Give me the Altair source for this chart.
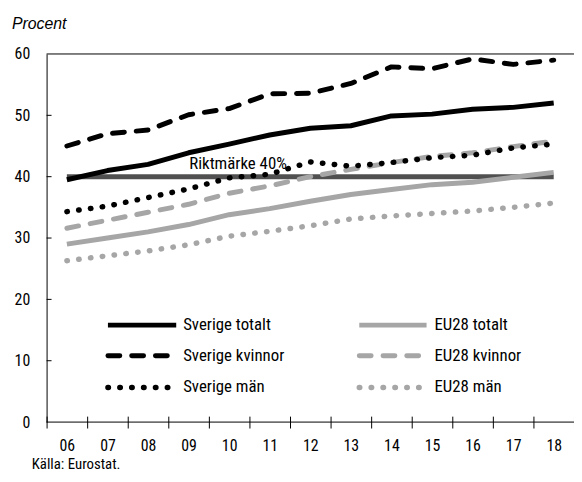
import altair as alt
import pandas as pd

# ---- data ----
years = ["06", "07", "08", "09", "10", "11", "12", "13", "14", "15", "16", "17", "18"]
sverige_totalt = [39.5, 41.0, 42.0, 43.9, 45.3, 46.8, 47.9, 48.3, 49.9, 50.2, 51.0, 51.3, 52.0]
sverige_kvinnor = [45.0, 47.0, 47.6, 50.1, 51.1, 53.5, 53.6, 55.2, 57.9, 57.6, 59.2, 58.3, 59.0]
sverige_man = [34.3, 35.2, 36.6, 38.0, 39.8, 40.4, 42.4, 41.7, 42.3, 43.1, 43.5, 44.7, 45.3]
eu_totalt = [29.0, 30.0, 31.0, 32.2, 33.8, 34.8, 36.0, 37.1, 37.9, 38.7, 39.1, 39.9, 40.7]
eu_kvinnor = [31.6, 32.9, 34.2, 35.5, 37.3, 38.5, 40.0, 41.2, 42.3, 43.3, 43.9, 44.9, 45.8]
eu_man = [26.3, 27.1, 27.9, 28.9, 30.3, 31.1, 32.0, 33.1, 33.6, 34.0, 34.4, 35.0, 35.7]
riktmarke = [40] * len(years)
y_ticks = [0, 10, 20, 30, 40, 50, 60]
inner_ticks = [10, 20, 30, 40, 50]

series_names = ["Sverige totalt", "Sverige kvinnor", "Sverige män",
                "EU28 totalt", "EU28 kvinnor", "EU28 män"]
series_values = [sverige_totalt, sverige_kvinnor, sverige_man,
                 eu_totalt, eu_kvinnor, eu_man]

rows = []
for name, vals in zip(series_names + ["Riktmärke"], series_values + [riktmarke]):
    for yr, v in zip(years, vals):
        rows.append({"year": yr, "value": v, "series": name})
df = pd.DataFrame(rows)

# ---- styling ----
W, H = 533, 372
FONT = "Roboto Condensed, Liberation Sans Narrow, Arial Narrow, Roboto, sans-serif"
BLACK = "#000000"
GREY = "#a6a6a6"
DARK = "#505050"
LW = 5

styles = {
    "Sverige totalt": dict(color=BLACK, strokeCap="butt", strokeWidth=LW),
    "Sverige kvinnor": dict(color=BLACK, strokeDash=[12, 12], strokeCap="round", strokeWidth=LW),
    "Sverige män": dict(color=BLACK, strokeDash=[0.5, 11.5], strokeCap="round", strokeWidth=5.5),
    "EU28 totalt": dict(color=GREY, strokeCap="butt", strokeWidth=LW),
    "EU28 kvinnor": dict(color=GREY, strokeDash=[12, 12], strokeCap="round", strokeWidth=LW),
    "EU28 män": dict(color=GREY, strokeDash=[0.5, 11.5], strokeCap="round", strokeWidth=5.5),
}

x_enc = alt.X(
    "year:O",
    scale=alt.Scale(type="band", domain=years, paddingInner=0, paddingOuter=0),
    bandPosition=0.5,
    axis=alt.Axis(
        title=None, labelAngle=0, domain=False, tickBand="extent", tickSize=12,
        offset=-6, tickColor=BLACK, tickWidth=1, labelFont=FONT, labelFontSize=16,
        labelColor=BLACK, labelPadding=10, grid=False,
    ),
)
y_scale = alt.Scale(domain=[0, 60], nice=False, zero=True)
y_enc = alt.Y(
    "value:Q",
    scale=y_scale,
    axis=alt.Axis(
        title=None, values=y_ticks, ticks=False, domain=True, domainColor=BLACK,
        domainWidth=1, labelFont=FONT, labelFontSize=16, labelColor=BLACK,
        labelPadding=17, grid=False,
    ),
)

base = alt.Chart(df)

layers = []
# benchmark line (bottom)
layers.append(
    base.transform_filter(alt.datum.series == "Riktmärke")
    .mark_line(color=DARK, strokeWidth=LW, strokeCap="butt")
    .encode(x=x_enc, y=y_enc)
)
draw_order = ["EU28 män", "EU28 totalt", "EU28 kvinnor",
              "Sverige totalt", "Sverige kvinnor", "Sverige män"]
for name in draw_order:
    st = styles[name]
    layers.append(
        base.transform_filter(alt.datum.series == name)
        .mark_line(strokeJoin="round", **st)
        .encode(x=x_enc, y=y_enc)
    )

# benchmark label
layers.append(
    alt.Chart(pd.DataFrame({"year": ["10"], "value": [40], "label": ["Riktmärke 40%"]}))
    .mark_text(font=FONT, fontSize=17, color=BLACK, align="center",
               baseline="alphabetic", dx=9, dy=-8)
    .encode(x=alt.X("year:O", bandPosition=0.5),
            y=alt.Y("value:Q"), text="label:N")
)

# frame lines: top and bottom
frame = pd.DataFrame({"k": [0]})
layers.append(alt.Chart(frame).mark_rule(color=BLACK, strokeWidth=1)
              .encode(x=alt.value(0), x2=alt.value(W), y=alt.value(0)))
layers.append(alt.Chart(frame).mark_rule(color=BLACK, strokeWidth=1)
              .encode(x=alt.value(0), x2=alt.value(W), y=alt.value(H)))

# inner y ticks
layers.append(
    alt.Chart(pd.DataFrame({"value": inner_ticks}))
    .mark_rule(color=BLACK, strokeWidth=1)
    .encode(y=alt.Y("value:Q"), x=alt.value(0), x2=alt.value(5))
)

# manual legend
leg_cols = {"Sverige": (62, 131, 138), "EU28": (316, 384, 392)}
leg_rows = [274, 305, 337]
for i, name in enumerate(series_names):
    grp = "Sverige" if name.startswith("Sverige") else "EU28"
    x0, x1, tx = leg_cols[grp]
    yy = leg_rows[i % 3]
    st = styles[name]
    layers.append(
        alt.Chart(frame).mark_rule(**st)
        .encode(x=alt.value(x0), x2=alt.value(x1), y=alt.value(yy))
    )
    layers.append(
        alt.Chart(pd.DataFrame({"label": [name]}))
        .mark_text(font=FONT, fontSize=17, color=BLACK, align="left", baseline="middle")
        .encode(x=alt.value(tx), y=alt.value(yy), text="label:N")
    )

# unit label and source
layers.append(
    alt.Chart(pd.DataFrame({"label": ["Procent"]}))
    .mark_text(font="Liberation Sans, Arial, sans-serif", fontSize=16, fontStyle="italic",
               color=BLACK, align="left", baseline="alphabetic")
    .encode(x=alt.value(-35), y=alt.value(-25), text="label:N")
)
layers.append(
    alt.Chart(pd.DataFrame({"label": ["Källa: Eurostat."]}))
    .mark_text(font=FONT, fontSize=15, color=BLACK, align="left", baseline="alphabetic")
    .encode(x=alt.value(-15), y=alt.value(H + 47), text="label:N")
)

chart = (
    alt.layer(*layers)
    .properties(
        width=W, height=H,
        autosize=alt.AutoSizeParams(type="none"),
        padding={"left": 39, "top": 44, "right": 0, "bottom": 50},
        background="white",
    )
    .configure_view(strokeWidth=0)
)

chart.save("out.html", embed_options={"renderer": "svg", "actions": False})
